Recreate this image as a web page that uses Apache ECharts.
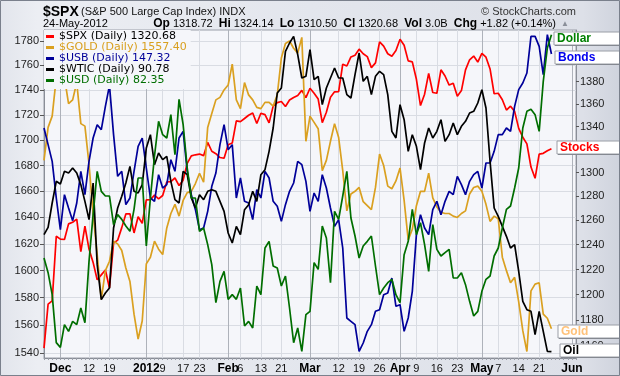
<!DOCTYPE html>
<html>
<head>
<meta charset="utf-8">
<title>$SPX intermarket</title>
<script src="https://cdn.jsdelivr.net/npm/echarts@6/dist/echarts.min.js"></script>
<style>
  html, body { margin: 0; padding: 0; background: #fff; }
  #chart { width: 620px; height: 376px; }
</style>
</head>
<body>
<div id="chart"></div>
<script>
// trading days from 25-Nov-2011; the last 6 slots (25-May .. 4-Jun) are empty space
const startDay = '2011-11-25';
const holidays = ['2011-12-26', '2012-01-02', '2012-01-16', '2012-02-20', '2012-04-06', '2012-05-28'];
const dayCount = 131;

// $SPX close (right axis)
const spx = [1158.67, 1192.55, 1195.19, 1246.96, 1244.58, 1244.28, 1257.08, 1258.47, 1261.01, 1234.35,
  1255.19, 1236.47, 1225.73, 1211.82, 1215.75, 1219.66, 1205.35, 1241.30, 1243.72, 1254.00,
  1265.33, 1265.43, 1249.64, 1263.02, 1257.60, 1277.06, 1277.30, 1281.06, 1277.81, 1280.70,
  1292.08, 1292.48, 1295.50, 1289.09, 1293.67, 1308.04, 1314.50, 1315.38, 1316.00, 1314.65,
  1326.06, 1318.43, 1316.33, 1313.01, 1312.41, 1324.09, 1325.54, 1344.90, 1344.33, 1347.05,
  1349.96, 1351.95, 1342.64, 1351.77, 1350.50, 1343.23, 1358.04, 1361.23, 1362.21, 1357.66,
  1363.46, 1365.74, 1367.59, 1372.18, 1365.68, 1374.09, 1369.63, 1364.33, 1343.36, 1352.63,
  1365.91, 1370.87, 1371.09, 1395.95, 1394.28, 1402.60, 1404.17, 1409.75, 1405.52, 1402.89,
  1392.78, 1397.11, 1416.51, 1412.52, 1405.54, 1403.28, 1408.47, 1419.04, 1413.38, 1398.96,
  1398.08, 1382.20, 1358.59, 1368.71, 1387.57, 1370.26, 1369.57, 1390.78, 1385.14, 1376.92,
  1378.53, 1366.94, 1371.97, 1390.69, 1399.98, 1403.36, 1397.91, 1405.82, 1402.31, 1391.57,
  1369.10, 1369.58, 1363.72, 1354.58, 1357.99, 1353.39, 1338.35, 1330.66, 1324.80, 1304.86,
  1295.22, 1315.99, 1316.63, 1318.86, 1320.68];

// $GOLD (left axis)
const gold = [1684, 1710, 1719, 1750, 1755, 1750, 1729, 1732, 1746, 1713,
  1711, 1681, 1643, 1612, 1579, 1600, 1607, 1622, 1620, 1615,
  1602, 1592, 1568, 1550, 1563, 1605, 1610, 1622, 1616, 1612,
  1632, 1643, 1650, 1641, 1653, 1659, 1660, 1666, 1674, 1667,
  1710, 1721, 1732, 1734, 1740, 1744, 1761, 1732, 1725, 1746,
  1736, 1732, 1726, 1725, 1730, 1730, 1727, 1736, 1766, 1778,
  1780, 1774, 1770, 1783, 1699, 1719, 1714, 1709, 1676, 1684,
  1699, 1713, 1702, 1676, 1645, 1658, 1660, 1663, 1652, 1649,
  1646, 1663, 1689, 1680, 1664, 1662, 1668, 1678, 1653, 1623,
  1631, 1649, 1660, 1660, 1674, 1655, 1648, 1644, 1643, 1643,
  1641, 1640, 1643, 1645, 1658, 1663, 1664, 1660, 1650, 1637,
  1641, 1639, 1610, 1600, 1591, 1595, 1577, 1556, 1541, 1585,
  1590, 1591, 1568, 1565, 1557.40];

// $USB, $WTIC, $USD are overlays on their own (hidden) scales
const usb = [145.10, 144.60, 144.10, 143.00, 142.05, 143.10, 142.70, 142.32, 142.85, 143.80,
  143.10, 144.10, 144.80, 145.20, 145.05, 145.75, 146.38, 144.90, 143.65, 143.80,
  142.80, 143.00, 143.80, 144.55, 144.80, 143.90, 143.00, 142.90, 143.70, 143.30,
  143.40, 144.15, 143.80, 144.80, 145.00, 143.80, 143.10, 142.65, 142.05, 142.10,
  142.60, 143.35, 143.75, 144.60, 145.20, 144.45, 144.60, 143.00, 143.60, 142.90,
  142.85, 142.35, 143.25, 143.00, 143.80, 143.60, 142.90, 142.75, 142.30, 142.80,
  143.20, 143.45, 144.10, 144.00, 143.50, 142.60, 143.15, 142.90, 143.70, 143.30,
  142.70, 142.15, 142.35, 141.50, 139.40, 139.30, 139.20, 138.40, 138.65, 139.00,
  139.20, 139.60, 139.65, 140.10, 140.15, 140.60, 139.75, 139.80, 139.00, 139.40,
  140.20, 141.90, 142.50, 142.10, 141.90, 142.65, 142.90, 142.50, 142.90, 143.20,
  143.10, 143.65, 143.40, 143.10, 143.50, 143.70, 143.80, 143.30, 144.05, 144.05,
  144.40, 144.90, 144.90, 145.10, 145.00, 145.75, 146.25, 146.45, 146.75, 147.85,
  147.85, 147.55, 146.70, 147.90, 147.32];

const wtic = [97.80, 98.24, 99.70, 101.00, 100.84, 101.60, 101.50, 101.80, 101.50, 100.80,
  99.80, 98.70, 100.90, 96.00, 93.90, 94.30, 94.60, 98.20, 99.40, 100.10,
  100.90, 101.90, 100.40, 100.30, 100.80, 103.00, 103.80, 102.00, 102.70, 102.30,
  102.50, 101.00, 99.90, 99.70, 101.60, 101.40, 100.00, 99.40, 100.20, 99.90,
  100.40, 100.50, 100.40, 99.80, 99.20, 97.90, 97.30, 98.30, 97.80, 99.30,
  99.60, 100.40, 99.80, 101.40, 101.70, 102.80, 104.20, 106.30, 106.60, 108.80,
  109.30, 109.70, 108.60, 107.20, 107.30, 108.90, 107.10, 107.30, 105.60, 106.60,
  107.20, 107.80, 107.20, 107.20, 106.20, 106.00, 107.40, 108.70, 107.00, 107.30,
  106.20, 107.30, 107.60, 107.40, 106.20, 104.00, 103.60, 105.60, 104.70, 102.80,
  103.80, 103.10, 101.70, 103.30, 104.20, 103.60, 104.00, 104.70, 103.40, 103.80,
  104.50, 103.80, 104.30, 104.60, 105.10, 105.20, 105.70, 106.50, 105.40, 102.20,
  99.40, 98.90, 98.30, 97.70, 97.00, 97.20, 95.60, 93.80, 93.30, 93.20,
  91.80, 93.20, 92.00, 90.80, 90.78];

const usd = [79.00, 78.78, 78.45, 77.73, 77.66, 78.00, 77.90, 78.05, 78.00, 78.25,
  78.03, 78.95, 79.65, 80.30, 80.00, 79.93, 79.93, 79.50, 79.65, 79.58,
  79.48, 79.40, 79.73, 80.20, 80.20, 79.18, 79.90, 80.53, 81.05, 80.85,
  80.80, 81.15, 80.55, 81.38, 81.00, 80.35, 79.90, 79.90, 79.40, 79.45,
  79.20, 78.90, 78.33, 78.65, 78.80, 78.38, 78.45, 78.38, 78.55, 77.98,
  78.05, 77.95, 78.58, 78.45, 79.15, 79.25, 78.88, 78.85, 78.58, 78.73,
  78.25, 77.73, 77.95, 77.60, 78.15, 78.20, 78.93, 78.83, 79.48, 79.30,
  78.63, 79.70, 79.58, 79.93, 80.30, 79.60, 79.33, 79.00, 79.18, 79.25,
  79.33, 78.88, 78.45, 78.55, 78.63, 78.68, 78.45, 78.33, 79.05, 79.25,
  79.73, 79.35, 79.53, 79.20, 78.80, 79.50, 79.13, 79.03, 79.08, 79.13,
  78.70, 78.70, 78.78, 78.60, 78.35, 78.13, 78.20, 78.50, 78.68, 78.73,
  79.03, 79.15, 79.45, 79.73, 79.78, 80.05, 80.35, 80.95, 81.20, 81.23,
  81.15, 80.90, 81.65, 82.15, 82.35];

const goldTicks = [1540, 1560, 1580, 1600, 1620, 1640, 1660, 1680, 1700, 1720, 1740, 1760, 1780];
const spxTicks = [1160, 1180, 1200, 1220, 1240, 1260, 1280, 1300, 1320, 1340, 1360, 1380, 1400, 1420];
const monthNames = ['Jan', 'Feb', 'Mar', 'Apr', 'May', 'Jun', 'Jul', 'Aug', 'Sep', 'Oct', 'Nov', 'Dec'];

const quote = [['Op', '1318.72'], ['Hi', '1324.14'], ['Lo', '1310.50'], ['Cl', '1320.68'], ['Vol', '3.0B'], ['Chg', '+1.82 (+0.14%)']];
const tagNames = ['Dollar', 'Bonds', 'Stocks', 'Gold', 'Oil'];

// build trading-day categories
let dates = [];
let d = new Date(startDay + 'T00:00:00Z');
while (dates.length < dayCount) {
  let s = d.toISOString().slice(0, 10);
  let wd = d.getUTCDay();
  if (wd !== 0 && wd !== 6 && holidays.indexOf(s) < 0) dates.push(s);
  d.setUTCDate(d.getUTCDate() + 1);
}

function dow(i) { return new Date(dates[i] + 'T00:00:00Z').getUTCDay(); }
function isMonthStart(i) { return i > 0 && dates[i].slice(5, 7) !== dates[i - 1].slice(5, 7); }
function isWeekStart(i) { return i > 0 && dow(i) <= dow(i - 1); }
function nearMonth(i) {
  for (let j = i - 2; j <= i + 4; j++) {
    if (j >= 0 && j < dates.length && isMonthStart(j)) return true;
  }
  return false;
}
function showWeek(i) { return isMonthStart(i) || (isWeekStart(i) && !nearMonth(i)); }

function dateLabel(value, i) {
  if (isMonthStart(i)) {
    let m = +dates[i].slice(5, 7);
    return '{m|' + (m === 1 ? dates[i].slice(0, 4) : monthNames[m - 1]) + '}';
  }
  return String(+dates[i].slice(8, 10));
}

const last = {
  '$SPX': spx[spx.length - 1].toFixed(2),
  '$GOLD': gold[gold.length - 1].toFixed(2),
  '$USB': usb[usb.length - 1].toFixed(2),
  '$WTIC': wtic[wtic.length - 1].toFixed(2),
  '$USD': usd[usd.length - 1].toFixed(2)
};

const font = '"Liberation Sans", Arial, sans-serif';
const plotBg = '#f5f6fa';

let chart = echarts.init(document.getElementById('chart'));

let graphics = [
  {
    type: 'rect', z: -10, silent: true,
    shape: { x: 0, y: 0, width: 620, height: 376 },
    style: {
      fill: new echarts.graphic.LinearGradient(0, 0, 1, 0, [
        { offset: 0, color: '#e2e5ec' }, { offset: 0.06, color: '#eceef3' },
        { offset: 0.5, color: '#e3e6ed' }, { offset: 0.94, color: '#dde0e8' }, { offset: 1, color: '#cfd3dd' }
      ])
    }
  },
  { type: 'text', x: 43, y: 12, style: { text: '$SPX', font: 'bold 14px ' + font, fill: '#000', verticalAlign: 'middle' } },
  { type: 'text', x: 81, y: 12, style: { text: '(S&P 500 Large Cap Index) INDX', font: '11px ' + font, fill: '#111', verticalAlign: 'middle' } },
  { type: 'text', x: 576, y: 12, style: { text: '© StockCharts.com', font: '11px ' + font, fill: '#333', align: 'right', verticalAlign: 'middle' } },
  { type: 'text', x: 43, y: 24, style: { text: '24-May-2012', font: '11px ' + font, fill: '#000', verticalAlign: 'middle' } },
  {
    type: 'text', x: 556, y: 24,
    style: {
      text: quote.map(function (q) { return '{b|' + q[0] + '} ' + q[1]; }).join('  '),
      font: '11px ' + font, fill: '#000', align: 'right', verticalAlign: 'middle',
      rich: { b: { font: 'bold 12px ' + font, fill: '#000' } }
    }
  },
  { type: 'text', x: 561, y: 24, style: { text: '▲', font: '8px ' + font, fill: '#8a8f99', verticalAlign: 'middle' } }
];

// name tags on the right edge
const tagColors = ['#008000', '#0000ee', '#ff0000', '#ffc27a', '#000000'];
const tagPos = [[554, 32], [555, 51], [557, 141], [558, 325], [560, 344]];
tagNames.forEach(function (t, k) {
  let x = tagPos[k][0], y = tagPos[k][1];
  graphics.push({ type: 'rect', z: 100, silent: true, shape: { x: x + 1, y: y + 1, width: 70, height: 13 }, style: { fill: '#6f737b' } });
  graphics.push({ type: 'rect', z: 101, silent: true, shape: { x: x, y: y, width: 70, height: 13 }, style: { fill: '#fff', stroke: '#9a9ea6', lineWidth: 1 } });
  graphics.push({ type: 'text', z: 102, silent: true, x: x + 3, y: y + 7, style: { text: t, font: 'bold 12px ' + font, fill: tagColors[k], verticalAlign: 'middle' } });
});

graphics.push({ type: 'rect', z: 110, silent: true, shape: { x: 0.5, y: 0.5, width: 619, height: 375 }, style: { fill: 'none', stroke: '#7a808c', lineWidth: 1 } });

let option = {
  animation: false,
  graphic: graphics,
  grid: { left: 44, right: 44, top: 30, bottom: 18, show: true, backgroundColor: plotBg, borderColor: '#9a9ea8', borderWidth: 1 },
  legend: {
    orient: 'vertical', left: 44, top: 30,
    padding: [1, 4, 3, 2], itemGap: 0, itemWidth: 8, itemHeight: 3, icon: 'rect',
    backgroundColor: plotBg,
    textStyle: { fontFamily: '"DejaVu Sans", sans-serif', fontSize: 11, lineHeight: 10 },
    formatter: function (name) { return name + ' (Daily) ' + last[name]; },
    data: [
      { name: '$SPX', textStyle: { color: '#000' } },
      { name: '$GOLD', textStyle: { color: '#d9a020' } },
      { name: '$USB', textStyle: { color: '#000099' } },
      { name: '$WTIC', textStyle: { color: '#000' } },
      { name: '$USD', textStyle: { color: '#006e00' } }
    ]
  },
  xAxis: [
    {
      type: 'category', data: dates, boundaryGap: false,
      axisLine: { lineStyle: { color: '#8a8e97' } },
      axisTick: { show: true, interval: 0, length: 2, lineStyle: { color: '#9a9ea8' } },
      axisLabel: {
        interval: function (i) { return showWeek(i); },
        formatter: dateLabel, margin: 5, fontFamily: font, fontSize: 11, color: '#111',
        rich: { m: { fontFamily: font, fontSize: 12, fontWeight: 'bold', color: '#000' } }
      },
      splitLine: { show: true, interval: function (i) { return showWeek(i); }, lineStyle: { color: '#d9dce3', width: 1 } }
    },
    {
      type: 'category', data: dates, boundaryGap: false,
      axisLine: { show: false }, axisTick: { show: false }, axisLabel: { show: false },
      splitLine: { show: true, interval: function (i) { return isMonthStart(i); }, lineStyle: { color: '#aeb2ba', width: 1 } }
    }
  ],
  yAxis: [
    {
      type: 'log', min: 1536.4, max: 1789.1, position: 'left',
      axisLine: { show: true, lineStyle: { color: '#8a8e97' } },
      axisTick: { show: true, length: 4, customValues: goldTicks, lineStyle: { color: '#555' } },
      axisLabel: { customValues: goldTicks, formatter: function (v) { return String(Math.round(v)); }, margin: 5, fontFamily: font, fontSize: 11, color: '#222' },
      splitLine: { show: true, lineStyle: { color: '#d9dce3' } }
    },
    {
      type: 'log', min: 1151.2, max: 1427.6, position: 'right',
      axisLine: { show: true, lineStyle: { color: '#8a8e97' } },
      axisTick: { show: true, length: 3, customValues: spxTicks, lineStyle: { color: '#555' } },
      axisLabel: { customValues: spxTicks, formatter: function (v) { return String(Math.round(v)); }, margin: 4, fontFamily: font, fontSize: 11, color: '#222' },
      splitLine: { show: false }
    },
    { type: 'value', min: 138.2, max: 148.04, show: false },
    { type: 'value', min: 90.4, max: 110.08, show: false },
    { type: 'value', min: 77.5, max: 82.42, show: false }
  ],
  series: [
    { name: '$SPX', type: 'line', yAxisIndex: 1, data: spx, color: '#ff0000', showSymbol: false, lineStyle: { width: 1.7 } },
    { name: '$GOLD', type: 'line', yAxisIndex: 0, data: gold, color: '#daa020', showSymbol: false, lineStyle: { width: 1.7 } },
    { name: '$USB', type: 'line', yAxisIndex: 2, data: usb, color: '#000099', showSymbol: false, lineStyle: { width: 1.7 } },
    { name: '$WTIC', type: 'line', yAxisIndex: 3, data: wtic, color: '#000000', showSymbol: false, lineStyle: { width: 1.7 } },
    { name: '$USD', type: 'line', yAxisIndex: 4, data: usd, color: '#006e00', showSymbol: false, lineStyle: { width: 1.7 } }
  ]
};

chart.setOption(option);
</script>
</body>
</html>
